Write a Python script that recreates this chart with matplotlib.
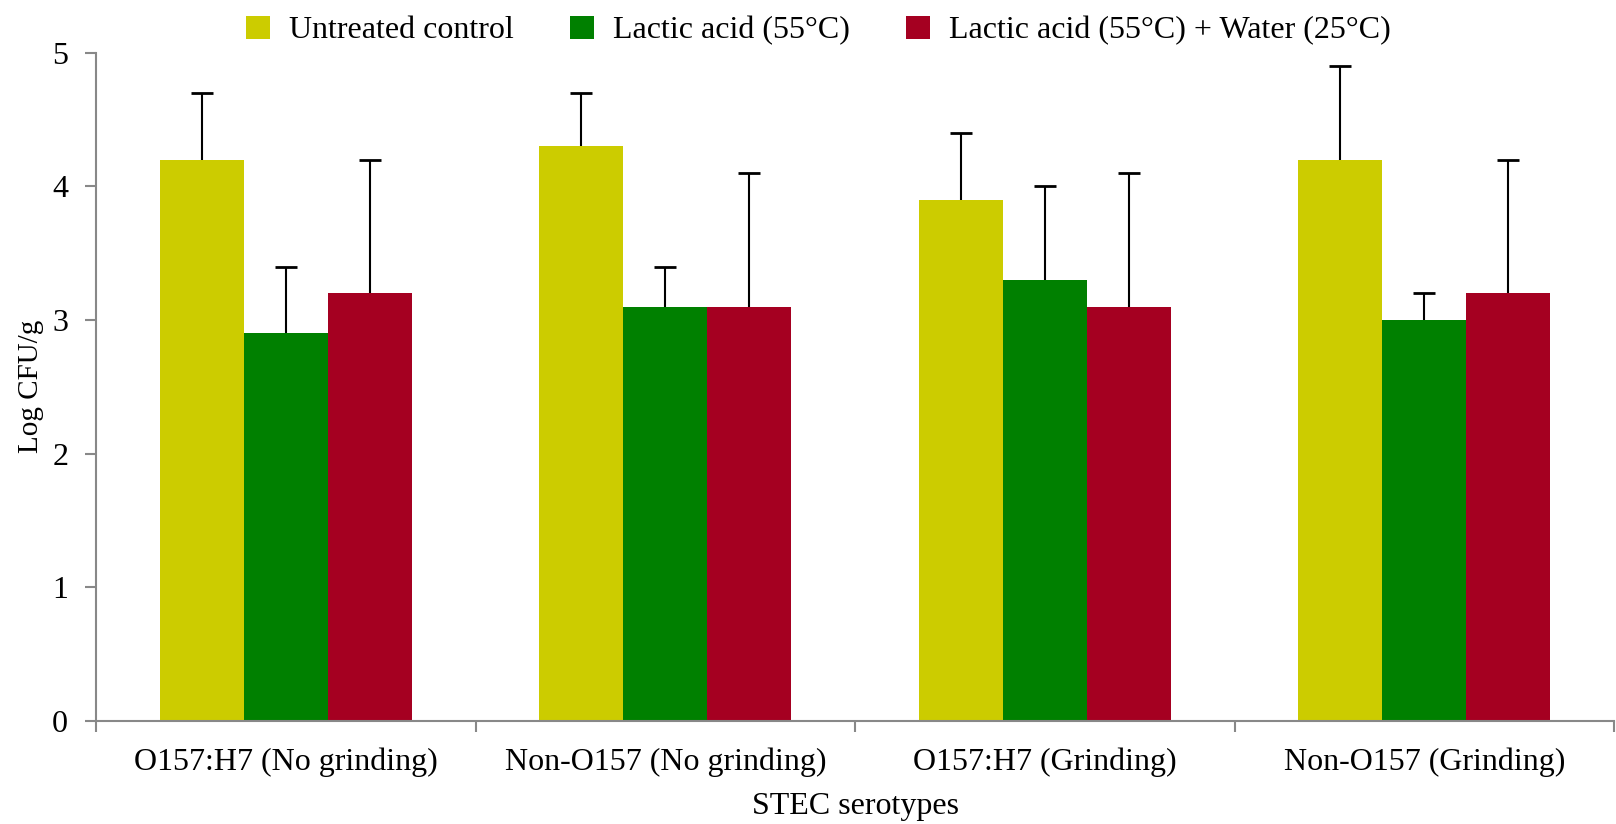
import matplotlib.pyplot as plt
import numpy as np

plt.rcParams['font.family'] = ['Liberation Serif', 'DejaVu Serif']

categories = ['O157:H7 (No grinding)', 'Non-O157 (No grinding)',
              'O157:H7 (Grinding)', 'Non-O157 (Grinding)']
series = ['Untreated control', 'Lactic acid (55°C)', 'Lactic acid (55°C) + Water (25°C)']
control = [4.2, 4.3, 3.9, 4.2]
lactic = [2.9, 3.1, 3.3, 3.0]
lactic_water = [3.2, 3.1, 3.1, 3.2]
control_err = [0.5, 0.4, 0.5, 0.7]
lactic_err = [0.5, 0.3, 0.7, 0.2]
lactic_water_err = [1.0, 1.0, 1.0, 1.0]

colors = ['#CCCC00', '#008000', '#A50021']
values = [control, lactic, lactic_water]
errors = [control_err, lactic_err, lactic_water_err]

fig = plt.figure(figsize=(16.16, 8.24), dpi=100)
ax = fig.add_axes([0.0594, 0.125, 0.9394, 0.811])

x = np.arange(len(categories))
w = 0.221
for i in range(3):
    pos = x + (i - 1) * w
    ax.bar(pos, values[i], w, color=colors[i], label=series[i], zorder=2)
    eb = ax.errorbar(pos, values[i], yerr=[np.zeros(4), errors[i]], fmt='none',
                     ecolor='black', elinewidth=1.5, capsize=8, capthick=2, zorder=3)
    eb[1][0].set_visible(False)  # hide lower caps

ax.set_xlim(-0.5, 3.5)
ax.set_ylim(0, 5)
ax.set_yticks(range(6))
ax.set_xticks(x)
ax.set_xticklabels(categories)
ax.set_xticks(np.arange(-0.5, 4, 1), minor=True)
ax.tick_params(axis='x', which='major', length=0, pad=19, labelsize=23)
ax.tick_params(axis='x', which='minor', length=8, color='#888888', width=1.5)
ax.tick_params(axis='y', length=8, color='#888888', width=1.5, labelsize=23, pad=12)

for s in ['top', 'right']:
    ax.spines[s].set_visible(False)
for s in ['left', 'bottom']:
    ax.spines[s].set_color('#888888')
    ax.spines[s].set_linewidth(1.5)

ax.set_ylabel('Log CFU/g', fontsize=21, labelpad=6)
ax.set_xlabel('STEC serotypes', fontsize=23, labelpad=11)

ax.legend(loc='lower center', bbox_to_anchor=(0.476, 0.968), ncol=3, frameon=False,
          fontsize=23, handlelength=0.75, handleheight=0.75, columnspacing=1.75,
          handletextpad=0.6)

fig.savefig('out.png', dpi=100)
